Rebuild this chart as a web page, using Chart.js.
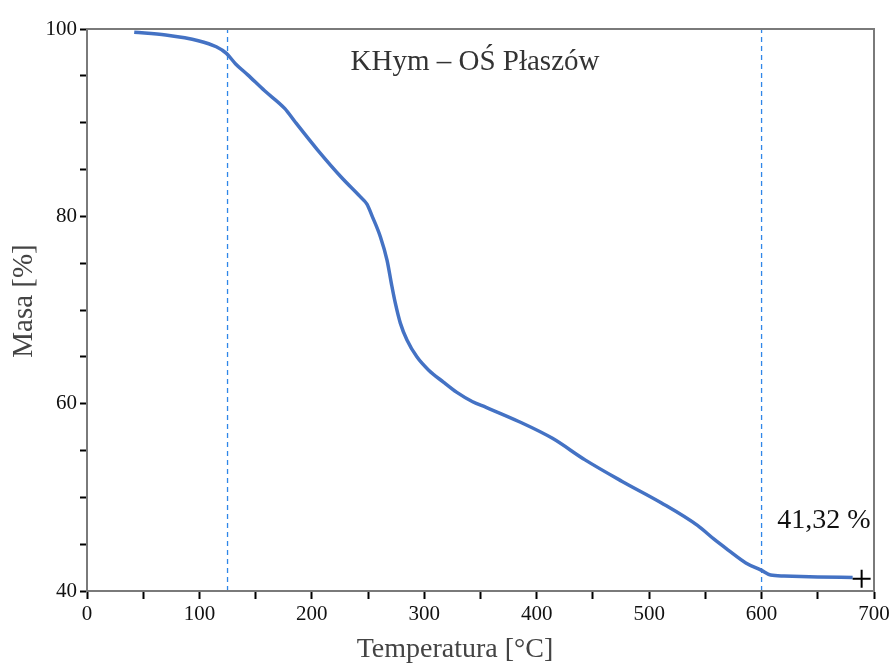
<!DOCTYPE html>
<html>
<head>
<meta charset="utf-8">
<script src="https://cdn.jsdelivr.net/npm/chart.js@4/dist/chart.umd.min.js"></script>
<style>
  html, body { margin: 0; padding: 0; background: #fff; }
  #wrap { width: 890px; height: 666px; position: relative; }
</style>
</head>
<body>
<div id="wrap"><canvas id="c"></canvas></div>
<script>
// ---- data ----
const temperature = [42, 70, 99, 115, 124, 132, 143, 158, 176, 185, 205, 226, 243, 249, 253.7, 261, 266.9, 270.7, 274.3, 278.7, 284.6, 293.4, 303.7, 317, 329, 343, 355, 384, 414, 443, 476, 511, 543, 558, 570, 586, 600, 608, 620, 650, 681];
const mass        = [99.65, 99.35, 98.75, 98.1, 97.4, 96.3, 95.1, 93.4, 91.5, 90.1, 87.1, 84.2, 82.1, 81.3, 80.0, 77.8, 75.3, 72.85, 70.7, 68.6, 66.8, 65.0, 63.6, 62.3, 61.2, 60.2, 59.6, 58.1, 56.3, 54.0, 51.7, 49.4, 47.0, 45.5, 44.4, 43.0, 42.2, 41.7, 41.6, 41.5, 41.45];
const markerLines = [125, 600];          // vertical dashed lines (°C)
const residueT = [689];
const residueM = [41.32];
const residueLabel = '41,32 %';
const chartTitle = 'KHym – OŚ Płaszów';
const xTitle = 'Temperatura [°C]';
const yTitle = 'Masa [%]';
const xRange = [0, 700];
const yRange = [40, 100];

const FONT = '"Liberation Serif", "Times New Roman", serif';

const curve = temperature.map((t, i) => ({ x: t, y: mass[i] }));
const vlineSets = markerLines.map(t => ({
  type: 'line',
  data: [{ x: t, y: yRange[0] }, { x: t, y: yRange[1] }],
  borderColor: '#2f86e8',
  borderWidth: 1.3,
  borderDash: [5, 4],
  pointRadius: 0,
  tension: 0,
  order: 3
}));

const overlay = {
  id: 'overlay',
  afterDraw(chart) {
    const { ctx, chartArea: a, scales } = chart;
    ctx.save();
    // frame (top/right)
    ctx.strokeStyle = '#7a7a7a';
    ctx.lineWidth = 2;
    ctx.strokeRect(a.left, a.top, a.right - a.left, a.bottom - a.top);
    // title inside plot
    ctx.fillStyle = '#333';
    ctx.font = '29px ' + FONT;
    ctx.textAlign = 'center';
    ctx.textBaseline = 'middle';
    ctx.fillText(chartTitle, 475, 62);
    // axis titles
    ctx.fillStyle = '#444';
    ctx.font = '28px ' + FONT;
    ctx.fillText(xTitle, 455, 650);
    ctx.save();
    ctx.translate(24, 301);
    ctx.rotate(-Math.PI / 2);
    ctx.font = '29px ' + FONT;
    ctx.fillText(yTitle, 0, 0);
    ctx.restore();
    // residue label
    ctx.fillStyle = '#111';
    ctx.font = '28px ' + FONT;
    ctx.textAlign = 'left';
    ctx.fillText(residueLabel, scales.x.getPixelForValue(614), scales.y.getPixelForValue(47.55));
    ctx.restore();
  }
};

new Chart(document.getElementById('c'), {
  type: 'line',
  data: {
    datasets: [
      {
        data: curve,
        borderColor: '#4472c4',
        borderWidth: 3.5,
        pointRadius: 0,
        cubicInterpolationMode: 'monotone',
        order: 2
      },
      ...vlineSets,
      {
        type: 'scatter',
        data: residueT.map((t, i) => ({ x: t, y: residueM[i] })),
        pointStyle: 'cross',
        pointRadius: 9,
        borderColor: '#000',
        borderWidth: 2,
        order: 1
      }
    ]
  },
  options: {
    responsive: true,
    maintainAspectRatio: false,
    animation: false,
    layout: { padding: { top: 29, right: 16, left: 0, bottom: 0 } },
    plugins: { legend: { display: false }, tooltip: { enabled: false }, title: { display: false } },
    scales: {
      x: {
        type: 'linear',
        min: xRange[0], max: xRange[1],
        afterFit(s) { s.height = 75; s.paddingRight = 0; s.paddingLeft = 0; },
        ticks: {
          stepSize: 50,
          autoSkip: false,
          maxRotation: 0,
          padding: 3,
          color: '#111',
          font: { family: FONT, size: 21 },
          callback: v => (v % 100 === 0 ? v : '')
        },
        grid: { drawOnChartArea: false, drawTicks: true, tickLength: 8, tickColor: '#000', tickWidth: 2 },
        border: { display: true, color: '#7a7a7a', width: 2 },
        title: { display: false }
      },
      y: {
        type: 'linear',
        min: yRange[0], max: yRange[1],
        afterFit(s) { s.width = 87; s.paddingTop = 0; s.paddingBottom = 0; },
        ticks: {
          stepSize: 5,
          autoSkip: false,
          padding: 3,
          color: '#111',
          font: { family: FONT, size: 21 },
          callback: v => (v % 20 === 0 ? v : '')
        },
        grid: { drawOnChartArea: false, drawTicks: true, tickLength: 7, tickColor: '#000', tickWidth: 2 },
        border: { display: true, color: '#7a7a7a', width: 2 },
        title: { display: false }
      }
    }
  },
  plugins: [overlay]
});
</script>
</body>
</html>
